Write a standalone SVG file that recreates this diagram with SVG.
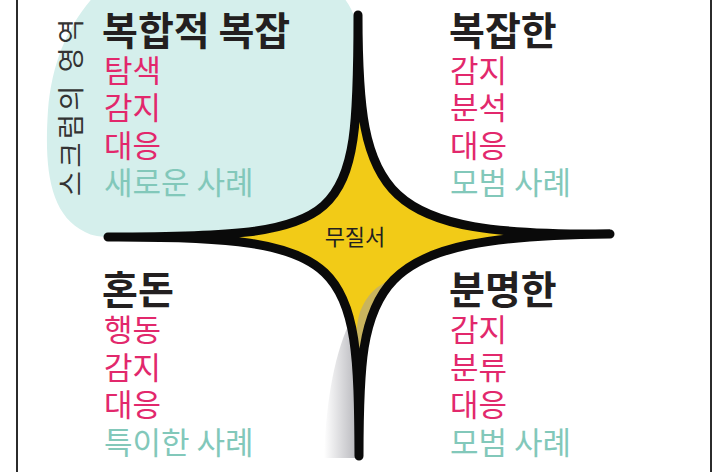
<svg xmlns="http://www.w3.org/2000/svg" width="715" height="472" viewBox="0 0 715 472">
<style>
  text { font-family: "Noto Sans CJK KR", "Noto Sans", sans-serif; }
  .title { font-size: 39px; font-weight: 700; fill: #231f20; }
  .act { font-size: 31px; fill: #e2286c; }
  .prac { font-size: 31px; fill: #82c8ba; }
  .frame { stroke: #2b2b2b; stroke-width: 2; fill: none; }
  .edge { fill: none; stroke: #0a0a0a; stroke-width: 9; stroke-linejoin: round; stroke-linecap: round; }
</style>
<defs>
  <linearGradient id="cliff" gradientUnits="userSpaceOnUse" x1="324" y1="0" x2="357" y2="0">
    <stop offset="0" stop-color="#ffffff"/>
    <stop offset="1" stop-color="#b8b8bd"/>
  </linearGradient>
</defs>
<rect width="715" height="472" fill="#ffffff"/>
<g id="frame">
  <line class="frame" x1="17" y1="0" x2="17" y2="472"/>
  <line class="frame" x1="711" y1="0" x2="711" y2="472"/>
</g>
<g id="scrum-area">
  <path d="M100,-10 L335,-10 C350,0 358,20 358,40 L358,236 L115,237 C100,237 92,236 85,232 C50,215 44,170 48,110 C52,60 70,20 100,-10 Z" fill="#d5efec"/>
  <text transform="translate(81,196) rotate(-90)" font-size="27" fill="#333333" textLength="177" lengthAdjust="spacing">스크럼의 영역</text>
</g>
<g id="cliff-shadow">
  <path d="M352,318 C335,350 326,400 324,458 L360,458 L358,318 Z" fill="url(#cliff)"/>
</g>
<g id="disorder">
  <path d="M358,15 C358,228 350,236 108,237 C352,236 358,260 359,456 C359,280 368,236 610,234 C380,236 358,200 358,15 Z" fill="#f2cb17"/>
  <path d="M395,279 C380,283 368,292 360,312 C356,325 356,335 359,348 L364,347 L369,315 L386,290 Z" fill="#c9b45e"/>
  <g id="connectors">
    <path class="edge" d="M358,15 C358,228 350,236 108,237 C352,236 358,260 359,456 C359,280 368,236 610,234 C380,236 358,200 358,15 Z"/>
  </g>
  <text x="355" y="245" font-size="22" fill="#231f20" text-anchor="middle">무질서</text>
</g>
<g id="complex">
  <text class="title" x="102" y="45">복합적 복잡</text>
  <text class="act" x="104" y="82">탐색</text>
  <text class="act" x="104" y="119">감지</text>
  <text class="act" x="104" y="157">대응</text>
  <text class="prac" x="104" y="194">새로운 사례</text>
</g>
<g id="complicated">
  <text class="title" x="449" y="45">복잡한</text>
  <text class="act" x="450" y="82">감지</text>
  <text class="act" x="450" y="119">분석</text>
  <text class="act" x="450" y="157">대응</text>
  <text class="prac" x="450" y="194">모범 사례</text>
</g>
<g id="chaotic">
  <text class="title" x="102" y="304">혼돈</text>
  <text class="act" x="104" y="341">행동</text>
  <text class="act" x="104" y="379">감지</text>
  <text class="act" x="104" y="416">대응</text>
  <text class="prac" x="104" y="454">특이한 사례</text>
</g>
<g id="clear">
  <text class="title" x="449" y="304">분명한</text>
  <text class="act" x="450" y="341">감지</text>
  <text class="act" x="450" y="379">분류</text>
  <text class="act" x="450" y="416">대응</text>
  <text class="prac" x="450" y="454">모범 사례</text>
</g>
</svg>
